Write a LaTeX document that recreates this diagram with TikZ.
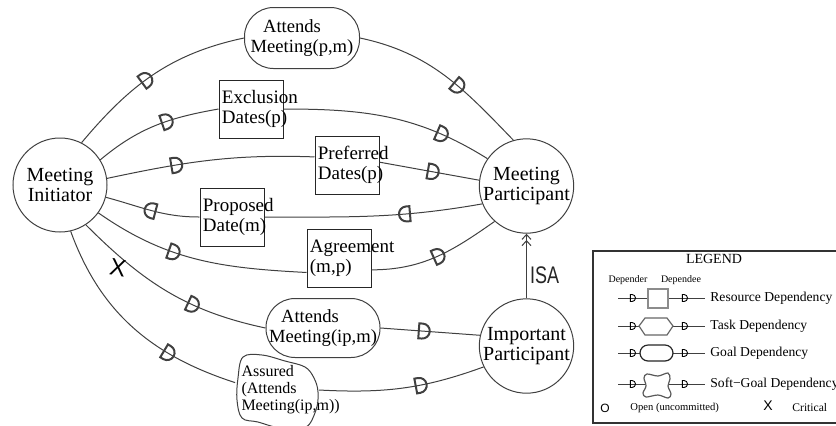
\documentclass[tikz,border=0pt]{standalone}
\usepackage{fontspec}
\setmainfont{Liberation Serif}
\newfontfamily\sansschrift{Liberation Sans}
\usepackage{tikz}
\usetikzlibrary{arrows.meta,calc,decorations.markings,positioning}
\newcommand{\Dform}{(-1.75pt,-3.75pt) -- (-1.75pt,3.75pt) -- (0pt,3.75pt) arc(90:-90:3.75pt) -- cycle}

\begin{document}
\begin{tikzpicture}[x=0.5pt,y=-0.5pt,
  linie/.style={black!75,line width=0.5pt},
  akteur/.style={circle,draw=black!75,line width=0.5pt,minimum size=47pt,inner sep=0pt,align=center,font=\fontsize{10}{10}\selectfont},
  ziel/.style={rectangle,rounded corners=14.5pt,draw=black!75,line width=0.5pt,inner sep=0pt,align=center,font=\fontsize{9.3}{10}\selectfont},
  ressource/.style={rectangle,draw=black!85,line width=0.5pt,minimum width=32pt,minimum height=29pt,inner sep=0pt},
  boxtext/.style={anchor=west,align=left,inner sep=1.5pt,font=\fontsize{9.5}{9.8}\selectfont},
  sgtext/.style={anchor=west,align=left,inner sep=3pt,font=\fontsize{8}{8.5}\selectfont},
  legtext/.style={anchor=west,inner sep=1pt,font=\fontsize{6.8}{6.8}\selectfont},
  dpen/.style={line width=1pt},
  dm/.style={postaction={decorate,decoration={markings,mark=at position #1 with {\draw[dpen] \Dform;}}}},
]
%Koordinaten in Pixeln, y nach unten
\useasboundingbox (0,0) rectangle (836,425);
\clip (0,0) rectangle (836,425);
%Akteure
\node[akteur] (ini) at (60,185) {Meeting\\Initiator};
\node[akteur] (part) at (526.5,186) {Meeting\\Participant};
\node[akteur] (imp) at (526.5,346) {Important\\Participant};
%Abhaengigkeiten
\node[ziel,minimum width=57.5pt,minimum height=30.5pt] (att) at (302,38) {\hspace*{-10pt}Attends\\Meeting(p,m)};
\node[ressource,label={[boxtext]west:{Exclusion\\Dates(p)}}] (excl) at (251,109) {};
\node[ressource,label={[boxtext]west:{Preferred\\Dates(p)}}] (pref) at (347,165) {};
\node[ressource,label={[boxtext]west:{Proposed\\Date(m)}}] (prop) at (232,217) {};
\node[ressource,label={[boxtext]west:{Agreement\\(m,p)}}] (agr) at (339,258) {};
\node[ziel,minimum width=57pt,minimum height=29.5pt] (attip) at (323,328) {\hspace*{-13pt}Attends\\Meeting(ip,m)};
\node[minimum width=41.5pt,minimum height=35pt,inner sep=0pt,label={[sgtext]west:{Assured\\(Attends\\Meeting(ip,m))}}] (asrd) at (277,390) {};
\draw[linie] plot[smooth cycle,tension=0.6] coordinates {(243,357) (262,355) (285,361) (305,367) (314,378) (318,392) (316,410) (305,428) (280,428) (258,422) (242,418) (237,400) (238,378)};
%Verbindungen mit D
\draw[linie,dm=0.45] (ini.63) to[out=50,in=192] (att.west);
\draw[linie,dm=0.58] (att.east) to[out=-12,in=134] (part.106);
\draw[linie,dm=0.58] (ini.32) to[out=40,in=190] (excl.west);
\draw[linie,dm=0.75] (excl.east) to[out=0,in=148] (part.145);
\draw[linie,dm=0.33] (ini.8) to[out=12,in=178] (pref.166);
\draw[linie,dm=0.52] (pref.5) -- (part.173);
\draw[linie,dm=0.35] (part.202) to[out=190,in=0] (prop.east);
\draw[linie,dm=0.5] (prop.west) to[out=180,in=-15] (ini.-15);
\draw[linie,dm=0.38] (ini.-36) to[out=-35,in=177] (agr.204);
\draw[linie,dm=0.5] (agr.-20) to[out=0,in=215] (part.228);
\draw[linie,dm=0.63] (ini.-57) to[out=-45,in=168] (attip.west);
\draw[linie,dm=0.42] (attip.east) -- (imp.167);
\draw[linie,dm=0.68] (ini.-77) to[out=-70,in=162] (asrd.170);
\draw[linie,dm=0.6] (asrd.east) to[out=-3,in=200] (imp.206);
\node[font=\sansschrift\fontsize{12}{12}\selectfont,rotate=-10] (krit) at (118,268) {X};
\draw[linie,-{Straight Barb[length=2.5pt,width=4.5pt] Straight Barb[length=2.5pt,width=4.5pt]}] (imp) -- node[pos=0.35,right,inner sep=1.5pt,text=black!85,font=\sansschrift\fontsize{12}{12}\selectfont] (isa) {\scalebox{0.75}[1]{ISA}} (part);
%Legende
\draw[black!80,line width=0.6pt] (593,251) rectangle (850,423);
\node[font=\fontsize{7}{7}\selectfont] (legende) at (714,259) {LEGEND};
\node[font=\fontsize{5}{5}\selectfont] (depender) at (628,280) {Depender};
\node[font=\fontsize{5}{5}\selectfont] (dependee) at (681,280) {Dependee};
\begin{scope}[dpen/.style={line width=0.45pt}]
\foreach \y/\txt in {298/Resource Dependency,326/Task Dependency,353/Goal Dependency,384/Soft−Goal Dependency}{
  \draw[linie] (618,\y) -- (705,\y);
  \draw[dpen,shift={(632,\y)},scale=0.47] \Dform;
  \draw[dpen,shift={(684,\y)},scale=0.47] \Dform;
  \node[legtext] at (708,\y) {\txt};
}
\end{scope}
\draw[black!45,line width=0.7pt,fill=white] (648,289) rectangle (668,308);
\draw[black!60,line width=0.6pt,fill=white] (639,326) -- (645,318) -- (667,318) -- (673,326) -- (667,335) -- (645,335) -- cycle;
\draw[black!85,line width=0.6pt,fill=white,rounded corners=4pt] (640,345) rectangle (673,361);
\draw[black!65,line width=0.6pt,fill=white] plot[smooth cycle,tension=0.55] coordinates {(647,374) (658,376) (668,373) (670,379) (668,386) (671,394) (668,398) (658,395) (646,397) (643,393) (646,386) (644,378)};
\node[font=\sansschrift\fontsize{6}{6}\selectfont] (offen) at (605,408) {O};
\node[anchor=west,inner sep=0pt,font=\fontsize{5.3}{5.3}\selectfont] (offentxt) at (630,408) {Open (uncommitted)};
\node[font=\sansschrift\fontsize{7}{7}\selectfont] (kritisch) at (768,406) {X};
\node[anchor=west,inner sep=0pt,font=\fontsize{5.8}{5.8}\selectfont] (kritischtxt) at (792,408) {Critical};
\end{tikzpicture}
\end{document}
